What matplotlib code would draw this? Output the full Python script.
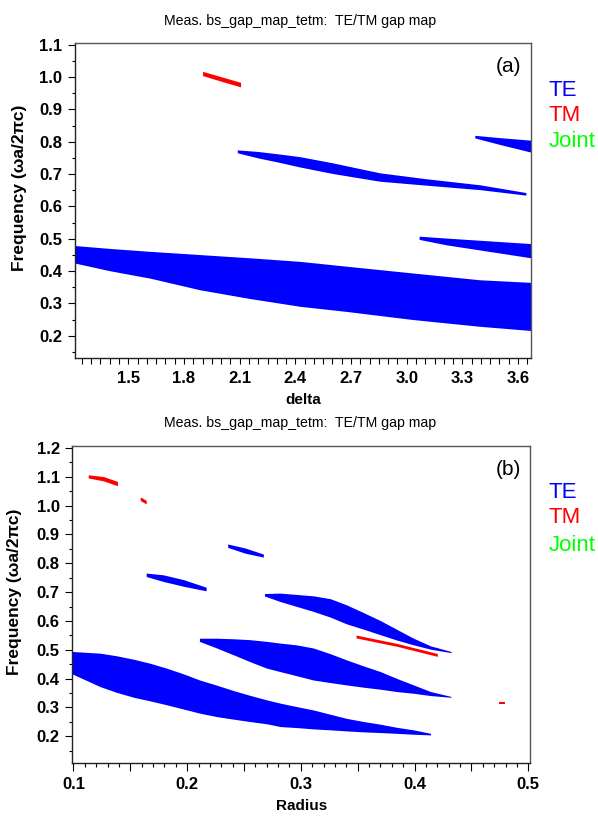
import matplotlib
matplotlib.use("Agg")
import matplotlib.pyplot as plt
from matplotlib.ticker import MultipleLocator, FuncFormatter

plt.rcParams['font.family'] = ['Liberation Sans', 'DejaVu Sans']

BLUE = '#0000ff'
RED = '#ff0000'
GREEN = '#00ff00'

TITLE = "Meas. bs_gap_map_tetm:  TE/TM gap map"
YLABEL = "Frequency (\u03c9a/2\u03c0c)"
LEGEND = ["TE", "TM", "Joint"]

# ---------------- panel (a): delta ----------------
a_te1_x = [1.21, 1.40, 1.617, 1.886, 2.155, 2.424, 2.676, 3.033, 3.394, 3.67]
a_te1_top = [0.479, 0.470, 0.461, 0.451, 0.441, 0.430, 0.415, 0.394, 0.373, 0.365]
a_te1_bot = [0.425, 0.401, 0.378, 0.342, 0.315, 0.291, 0.275, 0.250, 0.229, 0.216]

a_te2_x = [2.087, 2.20, 2.317, 2.425, 2.60, 2.855, 3.10, 3.394, 3.642]
a_te2_top = [0.775, 0.770, 0.762, 0.754, 0.735, 0.704, 0.686, 0.667, 0.643]
a_te2_bot = [0.766, 0.750, 0.736, 0.722, 0.702, 0.678, 0.666, 0.652, 0.635]

a_te3_x = [3.067, 3.215, 3.67]
a_te3_top = [0.508, 0.502, 0.485]
a_te3_bot = [0.498, 0.481, 0.441]

a_te4_x = [3.367, 3.5, 3.67]
a_te4_top = [0.820, 0.813, 0.805]
a_te4_bot = [0.812, 0.792, 0.768]

a_tm1_x = [1.90, 2.003, 2.105]
a_tm1_top = [1.018, 1.001, 0.984]
a_tm1_bot = [1.005, 0.987, 0.970]

# ---------------- panel (b): Radius ----------------
b_te1_x = [0.099, 0.1235, 0.138, 0.153, 0.1675, 0.182, 0.197, 0.211, 0.226, 0.241, 0.255,
           0.270, 0.282, 0.296, 0.311, 0.326, 0.340, 0.355, 0.370, 0.384, 0.399, 0.414]
b_te1_top = [0.494, 0.488, 0.479, 0.467, 0.453, 0.436, 0.416, 0.395, 0.377, 0.358, 0.342,
             0.326, 0.3145, 0.303, 0.291, 0.276, 0.262, 0.251, 0.2415, 0.231, 0.222, 0.210]
b_te1_bot = [0.416, 0.372, 0.352, 0.335, 0.3225, 0.309, 0.294, 0.280, 0.268, 0.259, 0.251,
             0.243, 0.2334, 0.230, 0.2253, 0.222, 0.2184, 0.215, 0.2126, 0.210, 0.2068, 0.2045]

b_te2_x = [0.2108, 0.226, 0.241, 0.255, 0.270, 0.282, 0.296, 0.311, 0.326, 0.340, 0.355,
           0.370, 0.384, 0.399, 0.414, 0.432]
b_te2_top = [0.540, 0.540, 0.538, 0.535, 0.529, 0.523, 0.517, 0.506, 0.486, 0.465, 0.444,
             0.424, 0.401, 0.378, 0.355, 0.338]
b_te2_bot = [0.529, 0.506, 0.482, 0.459, 0.436, 0.424, 0.410, 0.395, 0.386, 0.378, 0.370,
             0.363, 0.355, 0.349, 0.341, 0.335]

b_te3_x = [0.268, 0.282, 0.311, 0.326, 0.340, 0.355, 0.370, 0.384, 0.399, 0.414, 0.432]
b_te3_top = [0.695, 0.6965, 0.687, 0.677, 0.656, 0.629, 0.601, 0.5715, 0.540, 0.5135, 0.494]
b_te3_bot = [0.6865, 0.667, 0.633, 0.613, 0.590, 0.5715, 0.552, 0.534, 0.517, 0.502, 0.490]

b_te4_x = [0.164, 0.179, 0.197, 0.2167]
b_te4_top = [0.766, 0.760, 0.743, 0.717]
b_te4_bot = [0.754, 0.737, 0.720, 0.7045]

b_te5_x = [0.2357, 0.251, 0.267]
b_te5_top = [0.867, 0.853, 0.832]
b_te5_bot = [0.855, 0.835, 0.8215]

b_tm1_x = [0.113, 0.1264, 0.1387]
b_tm1_top = [1.107, 1.101, 1.084]
b_tm1_bot = [1.096, 1.086, 1.069]

b_tm2_x = [0.1587, 0.1613, 0.164]
b_tm2_top = [1.030, 1.025, 1.018]
b_tm2_bot = [1.018, 1.012, 1.006]

b_tm3_x = [0.3485, 0.3843, 0.420]
b_tm3_top = [0.551, 0.522, 0.487]
b_tm3_bot = [0.541, 0.512, 0.477]

b_tm4_x = [0.4745, 0.4795]
b_tm4_top = [0.319, 0.319]
b_tm4_bot = [0.313, 0.313]

fig = plt.figure(figsize=(5.98, 8.16), dpi=100)

ax1 = fig.add_axes([0.1246, 0.5613, 0.888 - 0.1246, 0.947 - 0.5613])
ax2 = fig.add_axes([0.1209, 0.0646, 0.8863 - 0.1209, 0.4538 - 0.0646])

for x, t, b in [(a_te1_x, a_te1_top, a_te1_bot), (a_te2_x, a_te2_top, a_te2_bot),
                (a_te3_x, a_te3_top, a_te3_bot), (a_te4_x, a_te4_top, a_te4_bot)]:
    ax1.fill_between(x, b, t, color=BLUE, lw=0)
for x, t, b in [(a_tm1_x, a_tm1_top, a_tm1_bot)]:
    ax1.fill_between(x, b, t, color=RED, lw=0)

for x, t, b in [(b_te1_x, b_te1_top, b_te1_bot), (b_te2_x, b_te2_top, b_te2_bot),
                (b_te3_x, b_te3_top, b_te3_bot), (b_te4_x, b_te4_top, b_te4_bot),
                (b_te5_x, b_te5_top, b_te5_bot)]:
    ax2.fill_between(x, b, t, color=BLUE, lw=0)
for x, t, b in [(b_tm1_x, b_tm1_top, b_tm1_bot), (b_tm2_x, b_tm2_top, b_tm2_bot),
                (b_tm3_x, b_tm3_top, b_tm3_bot), (b_tm4_x, b_tm4_top, b_tm4_bot)]:
    ax2.fill_between(x, b, t, color=RED, lw=0)

ax1.set_xlim(1.21, 3.67)
ax1.set_ylim(0.131, 1.105)
ax2.set_xlim(0.099, 0.5015)
ax2.set_ylim(0.106, 1.208)

# panel a ticks
ax1.xaxis.set_major_locator(MultipleLocator(0.3))
ax1.xaxis.set_minor_locator(MultipleLocator(0.05))
ax1.xaxis.set_major_formatter(FuncFormatter(lambda v, p: f"{v:.1f}"))
ax1.yaxis.set_major_locator(MultipleLocator(0.1))
ax1.yaxis.set_minor_locator(MultipleLocator(0.05))
ax1.yaxis.set_major_formatter(FuncFormatter(lambda v, p: f"{v:.1f}"))
ax1.tick_params(axis='x', which='both', length=4.5, width=0.8, direction='out', pad=5)
ax1.tick_params(axis='y', which='major', length=5, width=0.8, direction='out', pad=4)
ax1.tick_params(axis='y', which='minor', length=2.5, width=0.8, direction='out')

# panel b ticks
ax2.xaxis.set_major_locator(MultipleLocator(0.05))
ax2.xaxis.set_minor_locator(MultipleLocator(0.01))
ax2.xaxis.set_major_formatter(FuncFormatter(
    lambda v, p: f"{v:.1f}" if abs(round(v * 10) - v * 10) < 1e-6 else ""))
ax2.yaxis.set_major_locator(MultipleLocator(0.1))
ax2.yaxis.set_minor_locator(MultipleLocator(0.05))
ax2.yaxis.set_major_formatter(FuncFormatter(lambda v, p: f"{v:.1f}"))
ax2.tick_params(axis='x', which='major', length=6, width=0.8, direction='out', pad=4)
ax2.tick_params(axis='x', which='minor', length=3, width=0.8, direction='out')
ax2.tick_params(axis='y', which='major', length=5, width=0.8, direction='out', pad=4)
ax2.tick_params(axis='y', which='minor', length=2.5, width=0.8, direction='out')

for ax in (ax1, ax2):
    for lab in ax.get_xticklabels() + ax.get_yticklabels():
        lab.set_fontsize(12)
        lab.set_fontweight('bold')
    ax.spines['left'].set_color('#222222')
    ax.spines['bottom'].set_color('#222222')
    ax.spines['top'].set_color('#555555')
    ax.spines['right'].set_color('#555555')
    for s in ax.spines.values():
        s.set_linewidth(1.0)
    ax.set_ylabel(YLABEL, fontsize=12.5, fontweight='bold')

ax1.yaxis.set_label_coords(-0.104, 0.54)
ax2.yaxis.set_label_coords(-0.110, 0.54)

ax1.set_xlabel("delta", fontsize=11, fontweight='bold', labelpad=5)
ax2.set_xlabel("Radius", fontsize=11, fontweight='bold', labelpad=5)

fig.text(0.502, 0.974, TITLE, ha='center', va='center', fontsize=10.2)
fig.text(0.502, 0.4816, TITLE, ha='center', va='center', fontsize=10.2)

fig.text(0.851, 0.918, "(a)", ha='center', va='center', fontsize=15)
fig.text(0.8495, 0.4252, "(b)", ha='center', va='center', fontsize=15)

for ys in ([0.8897, 0.859, 0.8272], [0.397, 0.3652, 0.3321]):
    for lbl, col, y in zip(LEGEND, [BLUE, RED, GREEN], ys):
        fig.text(0.917, y, lbl, ha='left', va='center', fontsize=16, color=col)

fig.savefig("out.png", dpi=100)
